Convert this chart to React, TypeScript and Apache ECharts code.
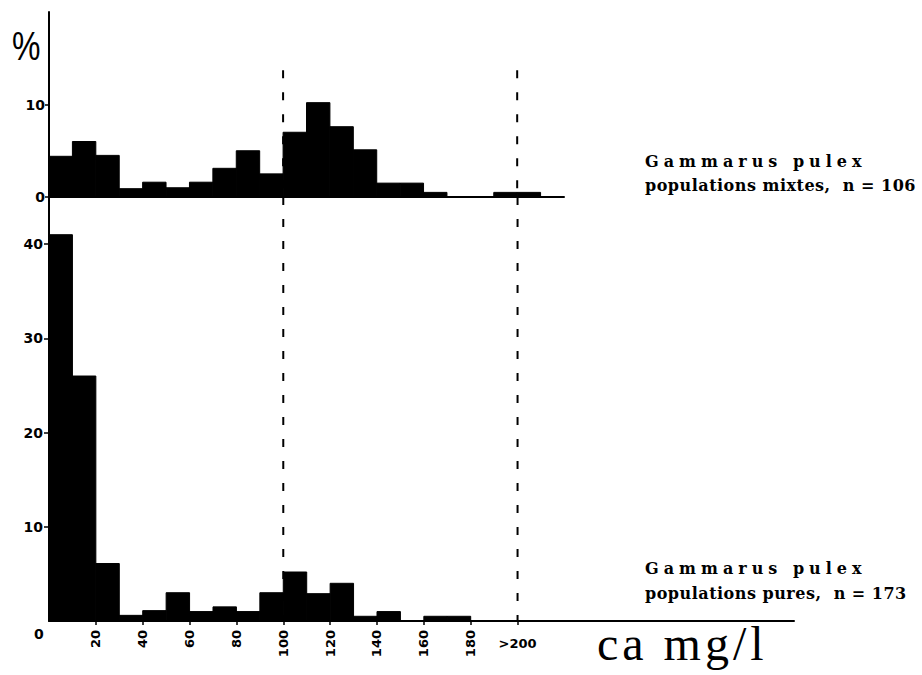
import React, { useEffect, useRef } from 'react';
import * as echarts from 'echarts';

// ---- data ----
const BIN_WIDTH = 10;
const binStarts = [0, 10, 20, 30, 40, 50, 60, 70, 80, 90, 100, 110, 120, 130, 140, 150, 160, 170, 180, 190, 200, 210];
// Gammarus pulex, populations mixtes (n = 106), % per 10 mg/l class
const mixtes = [4.4, 6.0, 4.5, 0.9, 1.6, 1.0, 1.6, 3.1, 5.0, 2.5, 7.0, 10.2, 7.6, 5.1, 1.5, 1.5, 0.5, 0, 0, 0.5, 0.5, 0];
// Gammarus pulex, populations pures (n = 173)
const pures = [41.0, 26.0, 6.1, 0.6, 1.1, 3.0, 1.0, 1.5, 1.0, 3.0, 5.2, 2.9, 4.0, 0.5, 1.0, 0, 0.5, 0.5, 0, 0, 0, 0];

const xTickValues = [20, 40, 60, 80, 100, 120, 140, 160, 180];
const xTickLabels = ['20', '40', '60', '80', '100', '120', '140', '160', '180'];
const overValue = 200;
const overLabel = '>200';
const topYTicks = [0, 10];
const bottomYTicks = [10, 20, 30, 40];
const refLines = [100, 200];
const topRefTop = 13.7;
const bottomRefTop = 45;

const labelTopName = 'Gammarus pulex';
const labelTopSub = 'populations mixtes,  n = 106';
const labelBotName = 'Gammarus pulex';
const labelBotSub = 'populations pures,  n = 173';
const unitLabel = 'ca mg/l';

const tickFont = { fontFamily: 'DejaVu Sans', fontWeight: 'bold' as const, fontSize: 14, color: '#000' };
const xTickFont = { fontFamily: 'DejaVu Sans', fontWeight: 'bold' as const, fontSize: 13, color: '#000' };

function histItem(params: any, api: any) {
  const x0 = api.value(0);
  const v = api.value(1);
  if (!v) return null;
  const p0 = api.coord([x0, v]);
  const p1 = api.coord([x0 + BIN_WIDTH, 0]);
  return {
    type: 'rect',
    shape: { x: p0[0], y: p0[1], width: p1[0] - p0[0], height: p1[1] - p0[1] },
    style: { fill: '#000', stroke: '#000', lineWidth: 1 },
  };
}

function refSeries(x: number, top: number, axis: number) {
  return {
    type: 'line',
    xAxisIndex: axis,
    yAxisIndex: axis,
    data: [[x, top], [x, 0]],
    symbol: 'none',
    silent: true,
    lineStyle: { color: '#000', width: 2, type: [8, 14] },
  };
}

export default function App() {
  const ref = useRef<HTMLDivElement>(null);
  useEffect(() => {
    if (!ref.current) return;
    const chart = echarts.init(ref.current, null, { renderer: 'svg' });
    const option: any = {
      animation: false,
      backgroundColor: '#fff',
      grid: [
        { left: 49, top: 12, width: 515, height: 185 },
        { left: 49, top: 197, width: 745, height: 424 },
      ],
      xAxis: [
        {
          gridIndex: 0, type: 'value', min: 0, max: 220,
          axisLine: { show: true, onZero: false, lineStyle: { color: '#000', width: 2 } },
          axisTick: { show: false }, axisLabel: { show: false }, splitLine: { show: false },
        },
        {
          gridIndex: 1, type: 'value', min: 0, max: 318, position: 'bottom',
          axisLine: { show: true, onZero: false, lineStyle: { color: '#000', width: 2 } },
          axisTick: { show: true, length: 4, customValues: [...xTickValues, overValue], lineStyle: { color: '#000', width: 1.5 } },
          axisLabel: {
            show: true, customValues: xTickValues, rotate: 90, margin: 9, ...xTickFont,
            formatter: (v: number) => xTickLabels[xTickValues.indexOf(v)] ?? '',
          },
          splitLine: { show: false },
        },
        {
          gridIndex: 1, type: 'value', min: 0, max: 318, position: 'bottom', offset: 0,
          axisLine: { show: false }, axisTick: { show: false }, splitLine: { show: false },
          axisLabel: { show: true, customValues: [overValue], margin: 16, ...xTickFont, formatter: () => overLabel },
        },
      ],
      yAxis: [
        {
          gridIndex: 0, type: 'value', min: 0, max: 20, interval: 10,
          axisLine: { show: true, lineStyle: { color: '#000', width: 2 } },
          axisTick: { show: true, length: 4, customValues: topYTicks, lineStyle: { color: '#000', width: 1.5 } },
          axisLabel: { show: true, customValues: topYTicks, margin: 4, ...tickFont },
          splitLine: { show: false },
        },
        {
          gridIndex: 1, type: 'value', min: 0, max: 45, interval: 10,
          axisLine: { show: true, lineStyle: { color: '#000', width: 2 } },
          axisTick: { show: true, length: 5, customValues: bottomYTicks, lineStyle: { color: '#000', width: 1.5 } },
          axisLabel: { show: true, customValues: bottomYTicks, margin: 6, ...tickFont },
          splitLine: { show: false },
        },
      ],
      series: [
        ...refLines.map((x) => refSeries(x, topRefTop, 0)),
        ...refLines.map((x) => refSeries(x, bottomRefTop, 1)),
        {
          type: 'custom', xAxisIndex: 0, yAxisIndex: 0, renderItem: histItem,
          data: binStarts.map((b, i) => [b, mixtes[i]]),
        },
        {
          type: 'custom', xAxisIndex: 1, yAxisIndex: 1, renderItem: histItem,
          data: binStarts.map((b, i) => [b, pures[i]]),
        },
      ],
      graphic: [
        { type: 'text', left: 12, top: 26, scaleX: 0.8, style: { text: '%', font: 'normal 40px "Liberation Sans"', fill: '#000' } },
        { type: 'text', left: 34, top: 627, style: { text: '0', font: 'bold 14px "DejaVu Sans"', fill: '#000' } },
        { type: 'text', left: 597, top: 619, style: { text: unitLabel, font: 'normal 48px "Liberation Serif"', fill: '#000' } },
        { type: 'text', left: 645, top: 153, style: { text: labelTopName, font: 'bold 16px "DejaVu Serif"', fill: '#000' } },
        { type: 'text', left: 645, top: 177, style: { text: labelTopSub, font: 'bold 16px "DejaVu Serif"', fill: '#000' } },
        { type: 'text', left: 645, top: 560, style: { text: labelBotName, font: 'bold 16px "DejaVu Serif"', fill: '#000' } },
        { type: 'text', left: 645, top: 585, style: { text: labelBotSub, font: 'bold 16px "DejaVu Serif"', fill: '#000' } },
      ],
    };
    chart.setOption(option);
    const texts = ref.current.querySelectorAll('text');
    texts.forEach((t) => {
      const c = t.textContent;
      if (c === labelTopName) t.setAttribute('letter-spacing', '5px');
      else if (c === labelTopSub || c === labelBotSub) t.setAttribute('letter-spacing', '0.5px');
      else if (c === unitLabel) t.setAttribute('letter-spacing', '4px');
    });
    return () => chart.dispose();
  }, []);
  return <div ref={ref} style={{ position: 'fixed', left: 0, top: 0, width: 922, height: 675, background: '#fff' }} />;
}
